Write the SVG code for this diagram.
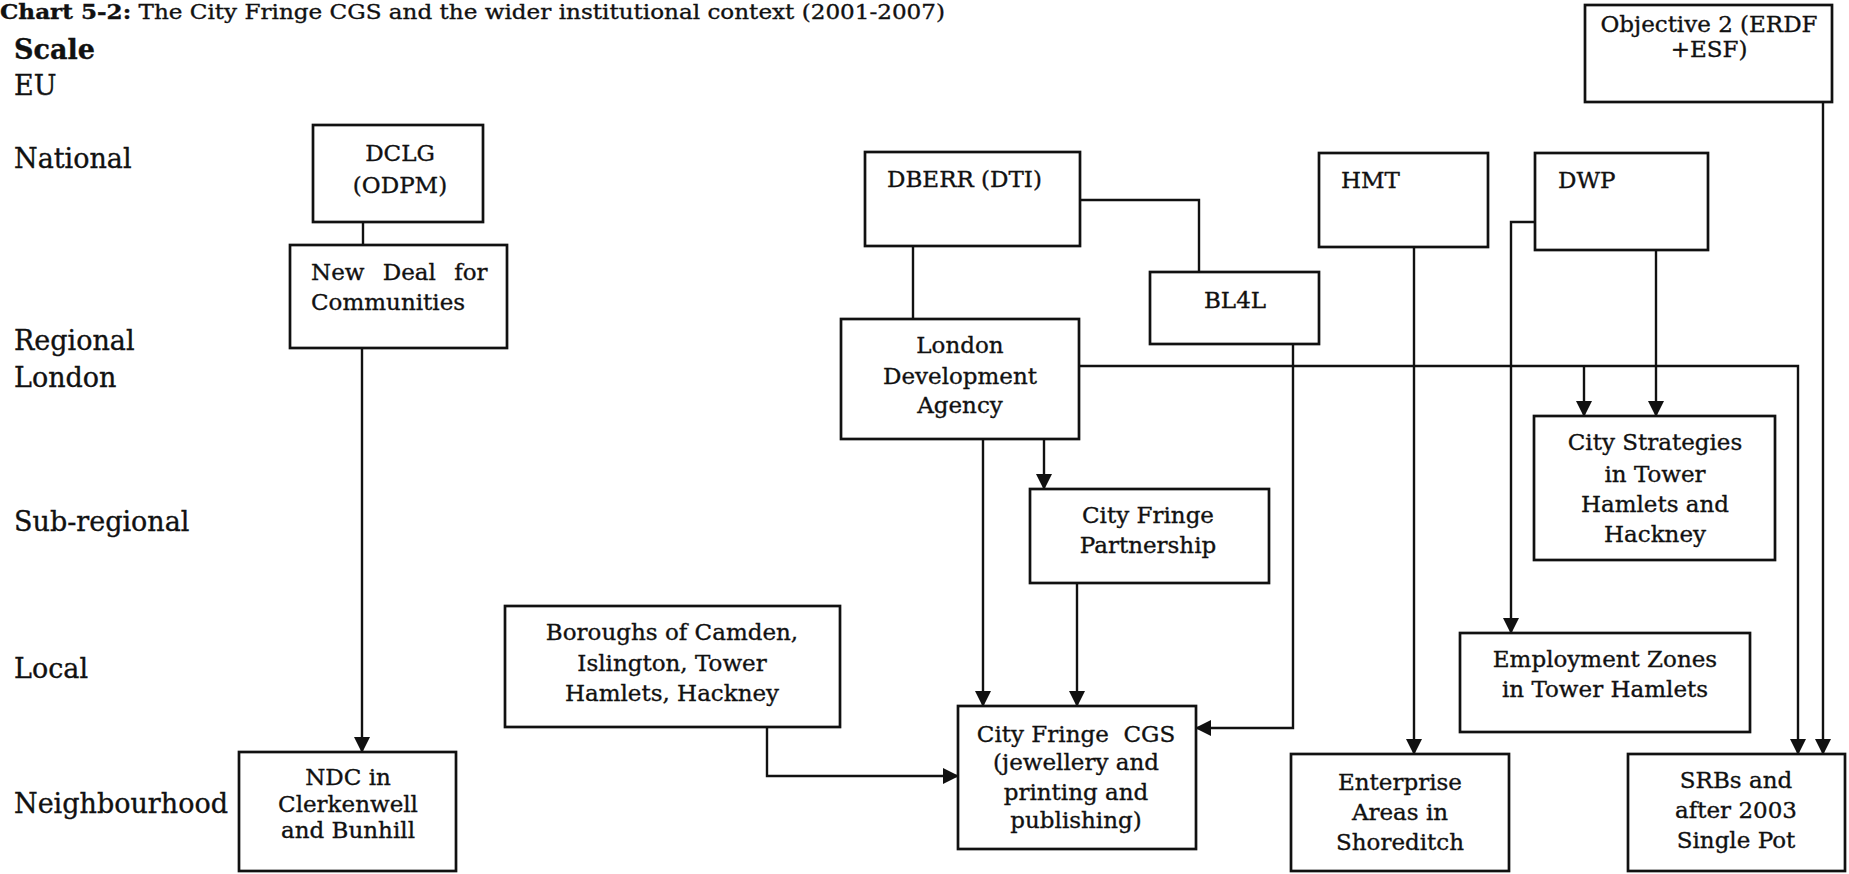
<svg xmlns="http://www.w3.org/2000/svg" width="1849" height="874" viewBox="0 0 1849 874">
<style>
text{font-family:"DejaVu Serif","Liberation Serif",serif;fill:#111;stroke:#111;stroke-width:0.35}
.lab{font-size:27px}
.t{font-size:23px;text-anchor:middle}
.ts{font-size:23px}
.box{fill:#fff;stroke:#111;stroke-width:2.7}
.c{fill:none;stroke:#111;stroke-width:2.4}
.a{marker-end:url(#arr)}
</style>
<defs>
<marker id="arr" markerUnits="userSpaceOnUse" markerWidth="17" markerHeight="17" refX="15" refY="8" orient="auto" viewBox="0 0 17 17">
<path d="M0,0 L16,8 L0,16 Z" fill="#111"/>
</marker>
</defs>
<rect width="1849" height="874" fill="#fff"/>
<text x="0" y="19" style="font-size:20px" textLength="945" lengthAdjust="spacingAndGlyphs"><tspan font-weight="bold">Chart 5-2:</tspan> The City Fringe CGS and the wider institutional context (2001-2007)</text>
<g id="scale-labels">
<text class="lab" x="14" y="59" font-weight="bold">Scale</text>
<text class="lab" x="14" y="95">EU</text>
<text class="lab" x="14" y="168">National</text>
<text class="lab" x="14" y="350">Regional</text>
<text class="lab" x="14" y="387">London</text>
<text class="lab" x="14" y="531">Sub-regional</text>
<text class="lab" x="14" y="678">Local</text>
<text class="lab" x="14" y="813">Neighbourhood</text>
</g>
<g id="connectors">
<line class="c" x1="363" y1="222" x2="363" y2="245"/>
<line class="c a" x1="362" y1="348" x2="362" y2="752"/>
<line class="c" x1="913" y1="246" x2="913" y2="319"/>
<path class="c" d="M1080,200 H1199 V272"/>
<line class="c a" x1="983" y1="439" x2="983" y2="706"/>
<line class="c a" x1="1044" y1="439" x2="1044" y2="489"/>
<line class="c a" x1="1077" y1="583" x2="1077" y2="706"/>
<path class="c a" d="M767,727 V776 H958"/>
<path class="c a" d="M1293,344 V728 H1196"/>
<path class="c a" d="M1079,366 H1798 V754"/>
<line class="c a" x1="1584" y1="366" x2="1584" y2="416"/>
<line class="c a" x1="1414" y1="247" x2="1414" y2="754"/>
<line class="c a" x1="1656" y1="250" x2="1656" y2="416"/>
<path class="c a" d="M1535,222 H1511 V633"/>
<line class="c a" x1="1823" y1="102" x2="1823" y2="754"/>
</g>
<g id="obj2">
<rect class="box" x="1585" y="5" width="247" height="97"/>
<text class="t" x="1709" y="32">Objective 2 (ERDF</text>
<text class="t" x="1709" y="57">+ESF)</text>
</g>
<g id="dclg">
<rect class="box" x="313" y="125" width="170" height="97"/>
<text class="t" x="400" y="161">DCLG</text>
<text class="t" x="400" y="193">(ODPM)</text>
</g>
<g id="ndfc">
<rect class="box" x="290" y="245" width="217" height="103"/>
<text class="ts" x="311" y="280" word-spacing="11">New Deal for</text>
<text class="ts" x="311" y="310">Communities</text>
</g>
<g id="dberr">
<rect class="box" x="865" y="152" width="215" height="94"/>
<text class="ts" x="887" y="187">DBERR (DTI)</text>
</g>
<g id="bl4l">
<rect class="box" x="1150" y="272" width="169" height="72"/>
<text class="t" x="1235" y="308">BL4L</text>
</g>
<g id="hmt">
<rect class="box" x="1319" y="153" width="169" height="94"/>
<text class="ts" x="1341" y="188">HMT</text>
</g>
<g id="dwp">
<rect class="box" x="1535" y="153" width="173" height="97"/>
<text class="ts" x="1558" y="188">DWP</text>
</g>
<g id="lda">
<rect class="box" x="841" y="319" width="238" height="120"/>
<text class="t" x="960" y="353">London</text>
<text class="t" x="960" y="384">Development</text>
<text class="t" x="960" y="413">Agency</text>
</g>
<g id="cfp">
<rect class="box" x="1030" y="489" width="239" height="94"/>
<text class="t" x="1148" y="523">City Fringe</text>
<text class="t" x="1148" y="553">Partnership</text>
</g>
<g id="city-strategies">
<rect class="box" x="1534" y="416" width="241" height="144"/>
<text class="t" x="1655" y="450">City Strategies</text>
<text class="t" x="1655" y="482">in Tower</text>
<text class="t" x="1655" y="512">Hamlets and</text>
<text class="t" x="1655" y="542">Hackney</text>
</g>
<g id="boroughs">
<rect class="box" x="505" y="606" width="335" height="121"/>
<text class="t" x="672" y="640">Boroughs of Camden,</text>
<text class="t" x="672" y="671">Islington, Tower</text>
<text class="t" x="672" y="701">Hamlets, Hackney</text>
</g>
<g id="employment-zones">
<rect class="box" x="1460" y="633" width="290" height="99"/>
<text class="t" x="1605" y="667">Employment Zones</text>
<text class="t" x="1605" y="697">in Tower Hamlets</text>
</g>
<g id="cgs">
<rect class="box" x="958" y="706" width="238" height="143"/>
<text class="t" x="1076" y="742" xml:space="preserve">City Fringe  CGS</text>
<text class="t" x="1076" y="770">(jewellery and</text>
<text class="t" x="1076" y="800">printing and</text>
<text class="t" x="1076" y="828">publishing)</text>
</g>
<g id="ndc">
<rect class="box" x="239" y="752" width="217" height="119"/>
<text class="t" x="348" y="785">NDC in</text>
<text class="t" x="348" y="812">Clerkenwell</text>
<text class="t" x="348" y="838">and Bunhill</text>
</g>
<g id="enterprise">
<rect class="box" x="1291" y="754" width="218" height="117"/>
<text class="t" x="1400" y="790">Enterprise</text>
<text class="t" x="1400" y="820">Areas in</text>
<text class="t" x="1400" y="850">Shoreditch</text>
</g>
<g id="srbs">
<rect class="box" x="1628" y="754" width="217" height="117"/>
<text class="t" x="1736" y="788">SRBs and</text>
<text class="t" x="1736" y="818">after 2003</text>
<text class="t" x="1736" y="848">Single Pot</text>
</g>
</svg>
